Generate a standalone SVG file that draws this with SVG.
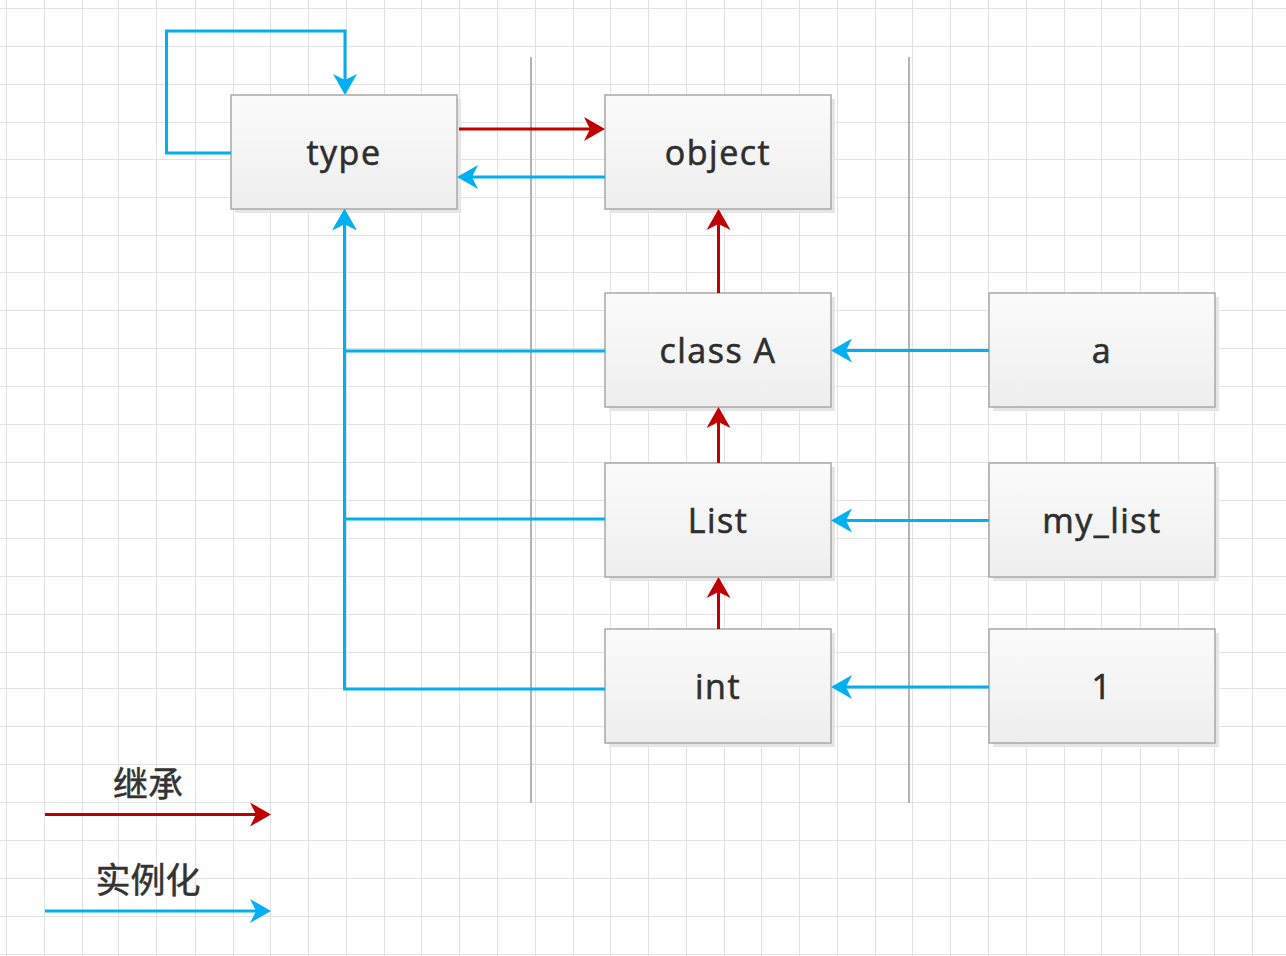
<svg xmlns="http://www.w3.org/2000/svg" width="1286" height="956" viewBox="0 0 1286 956">
  <style>
    .grid { stroke: #e2e2e2; stroke-width: 1; fill: none; }
    .sep { stroke: #b3b3b3; stroke-width: 2; fill: none; }
    .shadow { fill: #e6e6e6; }
    .box { fill: url(#boxFill); stroke: #a8a8a8; stroke-width: 1.5; }
    .label { font-family: "Open Sans", "Liberation Sans", sans-serif; font-size: 34px; letter-spacing: 1.5px; fill: #2e2e2e; stroke: #2e2e2e; stroke-width: 0.6px; text-anchor: middle; }
    .legend { font-family: "Noto Sans CJK SC", "Noto Sans", sans-serif; font-size: 35px; fill: #333333; stroke: #333333; stroke-width: 0.5px; text-anchor: middle; }
    .inherit { stroke: #c00000; stroke-width: 3; fill: none; marker-end: url(#headRed); }
    .instance { stroke: #00b0f0; stroke-width: 3; fill: none; marker-end: url(#headBlue); }
  </style>
  <defs>
    <linearGradient id="boxFill" x1="0" y1="0" x2="0" y2="1">
      <stop offset="0" stop-color="#fbfbfb"/>
      <stop offset="1" stop-color="#eeeeee"/>
    </linearGradient>
    <marker id="headRed" markerUnits="userSpaceOnUse" markerWidth="24" markerHeight="24" refX="6" refY="12" orient="auto" overflow="visible">
      <path d="M21 12 L0 0 L6 12 L0 24 Z" fill="#c00000"/>
    </marker>
    <marker id="headBlue" markerUnits="userSpaceOnUse" markerWidth="24" markerHeight="24" refX="6" refY="12" orient="auto" overflow="visible">
      <path d="M21 12 L0 0 L6 12 L0 24 Z" fill="#00b0f0"/>
    </marker>
  </defs>

  <rect x="0" y="0" width="1286" height="956" fill="#ffffff"/>

  <!-- background grid -->
  <g id="grid" class="grid">
    <path d="M6.5 0V956M44.5 0V956M82.5 0V956M118.5 0V956M156.5 0V956M195.5 0V956M233.5 0V956M270.5 0V956M308.5 0V956M346.5 0V956M384.5 0V956M421.5 0V956M459.5 0V956M497.5 0V956M535.5 0V956M573.5 0V956M610.5 0V956M648.5 0V956M686.5 0V956M724.5 0V956M761.5 0V956M799.5 0V956M837.5 0V956M875.5 0V956M912.5 0V956M950.5 0V956M988.5 0V956M1026.5 0V956M1064.5 0V956M1101.5 0V956M1140.5 0V956M1178.5 0V956M1214.5 0V956M1252.5 0V956"/>
    <path d="M0 8.5H1286M0 46.5H1286M0 84.5H1286M0 122.5H1286M0 159.5H1286M0 197.5H1286M0 235.5H1286M0 272.5H1286M0 310.5H1286M0 348.5H1286M0 386.5H1286M0 424.5H1286M0 462.5H1286M0 500.5H1286M0 538.5H1286M0 576.5H1286M0 614.5H1286M0 652.5H1286M0 688.5H1286M0 726.5H1286M0 764.5H1286M0 802.5H1286M0 840.5H1286M0 878.5H1286M0 916.5H1286M0 954.5H1286"/>
  </g>

  <!-- column separators -->
  <g id="separators" class="sep">
    <line x1="531" y1="57" x2="531" y2="803"/>
    <line x1="909" y1="57" x2="909" y2="803"/>
  </g>

  <!-- nodes -->
  <g id="node-type">
    <rect class="shadow" x="235" y="99" width="226" height="114"/>
    <rect class="box" x="231" y="95" width="226" height="114"/>
    <text class="label" x="344" y="165">type</text>
  </g>
  <g id="node-object">
    <rect class="shadow" x="609" y="99" width="226" height="114"/>
    <rect class="box" x="605" y="95" width="226" height="114"/>
    <text class="label" x="718" y="165">object</text>
  </g>
  <g id="node-classA">
    <rect class="shadow" x="609" y="297" width="226" height="114"/>
    <rect class="box" x="605" y="293" width="226" height="114"/>
    <text class="label" x="718" y="363">class A</text>
  </g>
  <g id="node-list">
    <rect class="shadow" x="609" y="467" width="226" height="114"/>
    <rect class="box" x="605" y="463" width="226" height="114"/>
    <text class="label" x="718" y="533">List</text>
  </g>
  <g id="node-int">
    <rect class="shadow" x="609" y="633" width="226" height="114"/>
    <rect class="box" x="605" y="629" width="226" height="114"/>
    <text class="label" x="718" y="699">int</text>
  </g>
  <g id="node-a">
    <rect class="shadow" x="993" y="297" width="226" height="114"/>
    <rect class="box" x="989" y="293" width="226" height="114"/>
    <text class="label" x="1102" y="363">a</text>
  </g>
  <g id="node-my_list">
    <rect class="shadow" x="993" y="467" width="226" height="114"/>
    <rect class="box" x="989" y="463" width="226" height="114"/>
    <text class="label" x="1102" y="533">my_list</text>
  </g>
  <g id="node-1">
    <rect class="shadow" x="993" y="633" width="226" height="114"/>
    <rect class="box" x="989" y="629" width="226" height="114"/>
    <text class="label" x="1102" y="699">1</text>
  </g>

  <!-- connectors -->
  <g id="connectors">
    <path class="instance" d="M231 153 H166.5 V31 H345 V80"/>
    <path class="inherit" d="M459 129 H590"/>
    <path class="instance" d="M605 177 H472"/>
    <path class="inherit" d="M718.5 293 V224"/>
    <path class="inherit" d="M718.5 463 V422"/>
    <path class="inherit" d="M718.5 629 V592"/>
    <path class="instance" d="M989 350.5 H846"/>
    <path class="instance" d="M989 520.5 H846"/>
    <path class="instance" d="M989 687 H846"/>
    <path class="instance" d="M605 351 H344.5 V224"/>
    <path class="instance" d="M605 519 H344.5 V224"/>
    <path class="instance" d="M605 689 H344.5 V224"/>
  </g>

  <!-- legend -->
  <g id="legend">
    <text class="legend" x="148" y="797">继承</text>
    <path class="inherit" d="M45 814.5 H256"/>
    <text class="legend" x="148" y="893">实例化</text>
    <path class="instance" d="M45 911 H256"/>
  </g>
</svg>
